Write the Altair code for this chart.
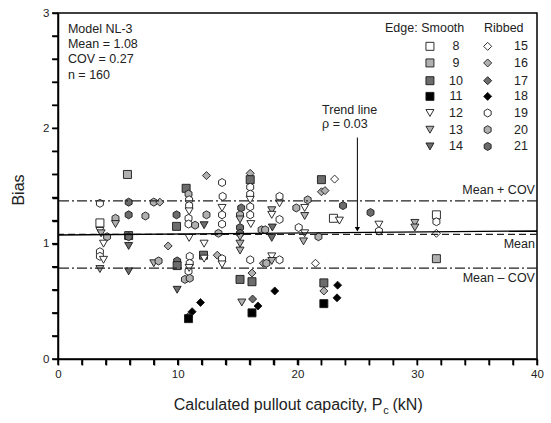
import altair as alt
import pandas as pd

# ---------------- data ----------------
pc_kn = [3.5, 3.5, 3.5, 3.6, 4.1, 3.8, 3.5, 3.5, 3.8, 3.5,
         4.8, 4.8,
         5.8, 5.9, 5.9, 5.9, 5.9, 5.9, 5.9,
         7.3, 8.0, 8.5, 8.0, 8.4,
         9.2, 9.9, 9.9, 9.95, 9.95, 9.95,
         10.7, 10.9, 10.95, 10.95, 10.95, 10.9, 10.9, 10.95, 11.45, 11.0, 11.0, 10.9, 10.6, 11.0, 10.95,
         11.9, 11.2, 10.9, 10.9,
         12.4, 12.4, 12.2, 12.2, 12.15, 12.2,
         13.7, 13.75, 13.7, 13.7, 13.7, 13.4, 13.3, 13.7, 13.7,
         15.3, 15.2, 15.2, 15.2, 15.2, 15.2, 15.2, 15.2, 15.2, 15.35,
         16.05, 16.05, 16.05, 16.05, 16.05, 16.05, 16.05, 16.1, 16.05, 16.2, 16.2, 16.25, 16.7, 16.2,
         17.0, 17.3, 17.15, 17.4,
         17.85, 17.85, 17.9, 17.85, 17.85, 17.85, 18.1, 18.5, 18.5, 18.5, 18.5,
         19.9, 20.1, 20.6, 20.85, 20.6, 20.6, 20.5, 21.75, 21.5,
         22.0, 22.0, 22.3, 22.2, 22.2, 22.2, 23.35, 23.3, 23.1, 23.8, 23.0, 23.5,
         26.1, 26.8, 26.8,
         29.8, 29.8,
         31.6, 31.6, 31.6, 31.6]
bias = [1.35, 1.18, 1.11, 1.09, 1.06, 1.00, 0.93, 0.89, 0.86, 0.78,
        1.22, 1.17,
        1.60, 1.36, 1.25, 1.07, 1.06, 0.98, 0.76,
        1.24, 1.36, 1.36, 0.83, 0.85,
        0.98, 1.25, 1.15, 0.85, 0.81, 0.60,
        1.48, 1.43, 1.38, 1.33, 1.28, 1.22, 1.17, 1.05, 1.16, 0.89, 0.83, 0.76, 0.69, 0.70, 0.79,
        0.49, 0.41, 0.37, 0.35,
        1.59, 1.25, 1.16, 1.00, 0.90, 0.87,
        1.53, 1.41, 1.31, 1.25, 1.17, 1.09, 0.90, 0.87, 0.82,
        1.31, 1.25, 1.21, 1.14, 1.09, 1.06, 1.00, 0.94, 0.69, 0.49,
        1.61, 1.555, 1.49, 1.43, 1.38, 1.32, 1.25, 1.17, 0.86, 0.745, 0.67, 0.52, 0.46, 0.40,
        1.12, 1.12, 0.83, 0.83,
        1.29, 1.25, 1.14, 1.05, 0.89, 0.85, 0.59, 0.86, 1.41, 1.35, 1.21,
        1.31, 1.14, 1.09, 1.38, 1.31, 1.24, 1.02, 1.06, 0.83,
        1.555, 1.45, 1.46, 0.66, 0.59, 0.48, 0.64, 0.53, 1.56, 1.33, 1.22, 1.20,
        1.27, 1.165, 1.11,
        1.18, 1.14,
        1.25, 1.19, 1.09, 0.87]
specimen = [19, 8, 12, 13, 20, 12, 19, 19, 12, 13,
            20, 13,
            9, 21, 21, 10, 21, 14, 14,
            20, 20, 16, 13, 20,
            16, 21, 10, 21, 10, 14,
            10, 20, 19, 19, 12, 19, 19, 12, 20, 19, 19, 19, 20, 20, 12,
            18, 18, 17, 11,
            16, 20, 14, 12, 10, 12,
            19, 19, 12, 19, 19, 20, 16, 19, 12,
            21, 20, 13, 21, 21, 13, 13, 13, 10, 13,
            16, 10, 19, 19, 12, 19, 19, 12, 19, 16, 10, 17, 18, 11,
            20, 20, 16, 20,
            13, 12, 14, 14, 12, 13, 18, 19, 19, 12, 19,
            20, 19, 12, 20, 12, 13, 13, 20, 15,
            10, 16, 16, 10, 16, 11, 18, 18, 15, 21, 8, 12,
            21, 12, 19,
            13, 13,
            8, 19, 15, 9]

spec_types = ["8", "9", "10", "11", "12", "13", "14",
              "15", "16", "17", "18", "19", "20", "21"]
smooth_types = ["8", "9", "10", "11", "12", "13", "14"]
ribbed_types = ["15", "16", "17", "18", "19", "20", "21"]

mean_bias = 1.08
cov = 0.27
trend_x = [0, 40]
trend_y = [1.075, 1.11]
x_ticks = list(range(0, 41, 2))
y_ticks = [round(i * 0.2, 1) for i in range(16)]

HEX = "M0,-1L0.866,-0.5L0.866,0.5L0,1L-0.866,0.5L-0.866,-0.5Z"
shape_range = ["square"] * 4 + ["triangle-down"] * 3 + ["diamond"] * 4 + [HEX] * 3
W, LG, DG, K = "#ffffff", "#b0b0b0", "#6c6c6c", "#000000"
fill_range = [W, LG, DG, K, W, LG, DG, W, LG, DG, K, W, LG, DG]
size_range = [64] * 4 + [85] * 3 + [110] * 4 + [95] * 3

df = pd.DataFrame({"pc": pc_kn, "bias": bias,
                   "type": [str(s) for s in specimen]})

# legend table (positions in data units of the plot)
leg_rows = [2.711, 2.567, 2.413, 2.277, 2.133, 1.988, 1.843]
leg = pd.DataFrame({
    "type": smooth_types + ribbed_types,
    "lx": [31.06] * 7 + [35.88] * 7,
    "nx": [33.24] * 7 + [38.66] * 7,
    "ly": leg_rows + leg_rows,
})

X = alt.Scale(domain=[0, 40], nice=False, zero=False)
Y = alt.Scale(domain=[0, 3], nice=False, zero=False)
shape_enc = alt.Shape("type:N", scale=alt.Scale(domain=spec_types, range=shape_range), legend=None)
fill_enc = alt.Fill("type:N", scale=alt.Scale(domain=spec_types, range=fill_range), legend=None)
size_enc = alt.Size("type:N", scale=alt.Scale(domain=spec_types, range=size_range), legend=None)

AX = dict(title=None, grid=False, ticks=True, tickSize=6, tickWidth=1.5, tickColor="#000",
          tickOpacity=1, domain=True, domainColor="#000", domainWidth=1.5,
          labelFontSize=11.5, labelColor="#222",
          labelPadding=3, labelFont="Liberation Sans", labelOverlap=False,
          labelBound=False, labelFlush=False)
x_axis = alt.Axis(values=x_ticks,
                  labelExpr="datum.value % 10 == 0 ? datum.label : ''", **AX)
y_axis = alt.Axis(values=y_ticks,
                  labelExpr="abs(datum.value - round(datum.value)) < 0.001 ? format(datum.value, 'd') : ''",
                  **AX)


def XQ(f):
    return alt.X(f, scale=X, axis=x_axis)


def YQ(f):
    return alt.Y(f, scale=Y, axis=y_axis)


points = alt.Chart(df).mark_point(filled=True, stroke="#1a1a1a", strokeWidth=0.9, opacity=1).encode(
    x=XQ("pc:Q"), y=YQ("bias:Q"),
    shape=shape_enc, fill=fill_enc, size=size_enc,
)

# tick marks drawn through the scales (outside the plot frame)
xtick_marks = alt.Chart(pd.DataFrame({"v": x_ticks})).mark_rule(
    color="#000", strokeWidth=1.5, clip=False).encode(x=XQ("v:Q"), y=alt.value(346), y2=alt.value(352))
ytick_marks = alt.Chart(pd.DataFrame({"v": y_ticks})).mark_rule(
    color="#000", strokeWidth=1.5, clip=False).encode(y=YQ("v:Q"), x=alt.value(-6), x2=alt.value(0))

ref = pd.DataFrame({"y": [mean_bias * (1 + cov), mean_bias * (1 - cov)]})
dashdot = alt.Chart(ref).mark_rule(color="#222", strokeWidth=1.2, strokeDash=[10, 3, 2, 3]).encode(
    y=YQ("y:Q"))
mean_line = alt.Chart(pd.DataFrame({"y": [mean_bias]})).mark_rule(
    color="#222", strokeWidth=1.2, strokeDash=[7, 4]).encode(y=YQ("y:Q"))
trend = alt.Chart(pd.DataFrame({"x": trend_x, "y": trend_y})).mark_line(
    color="#000", strokeWidth=1.3).encode(x=XQ("x:Q"), y=YQ("y:Q"))

arrow = alt.Chart(pd.DataFrame({"x": [25], "y": [1.92], "y2": [1.12]})).mark_rule(
    color="#000", strokeWidth=1).encode(x=XQ("x:Q"), y=YQ("y:Q"), y2="y2:Q")
arrow_head = alt.Chart(pd.DataFrame({"x": [25], "y": [1.125]})).mark_point(
    shape="triangle-down", filled=True, color="#000", size=28, opacity=1).encode(
    x=XQ("x:Q"), y=YQ("y:Q"))

TXT = dict(font="Liberation Sans", fontSize=12.5, color="#222")


def label(text, x, y, align="left", **kw):
    d = pd.DataFrame({"t": [text], "x": [x], "y": [y]})
    return alt.Chart(d).mark_text(align=align, baseline="middle", **{**TXT, **kw}).encode(
        x=XQ("x:Q"), y=YQ("y:Q"), text="t:N")


info_lines = ["Model NL-3", "Mean = 1.08", "COV = 0.27", "n = 160"]
info_y = [2.865, 2.735, 2.605, 2.466]
texts = [label(t, 0.83, yy) for t, yy in zip(info_lines, info_y)]
texts += [
    label("Trend line", 22.05, 2.16),
    label("ρ = 0.03", 22.05, 2.035),
    label("Mean + COV", 39.83, 1.462, align="right"),
    label("Mean", 39.83, 1.0, align="right"),
    label("Mean – COV", 39.83, 0.705, align="right"),
    label("Edge: Smooth", 27.31, 2.873),
    label("Ribbed", 35.57, 2.873),
]

leg_sym = alt.Chart(leg).mark_point(filled=True, stroke="#1a1a1a", strokeWidth=0.9, opacity=1).encode(
    x=XQ("lx:Q"), y=YQ("ly:Q"),
    shape=shape_enc, fill=fill_enc, size=size_enc)
leg_num = alt.Chart(leg).mark_text(align="center", baseline="middle", **TXT).encode(
    x=XQ("nx:Q"), y=YQ("ly:Q"), text="type:N")

# axis titles (x title has a subscript)
xt_main = alt.Chart(pd.DataFrame({"t": ["Calculated pullout capacity, P"]})).mark_text(
    align="right", baseline="alphabetic", font="Liberation Sans", fontSize=16, color="#222").encode(
    x=alt.value(324.5), y=alt.value(397), text="t:N")
xt_sub = alt.Chart(pd.DataFrame({"t": ["c"]})).mark_text(
    align="left", baseline="alphabetic", font="Liberation Sans", fontSize=11, color="#222").encode(
    x=alt.value(325.2), y=alt.value(401), text="t:N")
xt_end = alt.Chart(pd.DataFrame({"t": ["(kN)"]})).mark_text(
    align="left", baseline="alphabetic", font="Liberation Sans", fontSize=16, color="#222").encode(
    x=alt.value(334.5), y=alt.value(397), text="t:N")
yt = alt.Chart(pd.DataFrame({"t": ["Bias"]})).mark_text(
    align="center", baseline="middle", angle=270, font="Liberation Sans", fontSize=16, color="#222").encode(
    x=alt.value(-39), y=alt.value(177), text="t:N")

chart = alt.layer(
    points, xtick_marks, ytick_marks, dashdot, mean_line, trend, arrow, arrow_head, leg_sym, leg_num,
    *texts, xt_main, xt_sub, xt_end, yt
).properties(
    width=479, height=346,
    background="white",
    autosize=alt.AutoSizeParams(type="none"),
    padding={"left": 58, "top": 13, "right": 14, "bottom": 64},
).configure_view(stroke="#000", strokeWidth=1.5).configure_axis(
    grid=False, ticks=True, tickSize=6, tickWidth=1.5, tickColor="#000",
    domainColor="#000", domainWidth=1.5, labelFontSize=11.5, labelColor="#222",
    labelPadding=3, labelFont="Liberation Sans", labelOverlap=False,
    labelBound=False, labelFlush=False,
)

chart.save("out.html", embed_options={"renderer": "svg", "actions": False})
